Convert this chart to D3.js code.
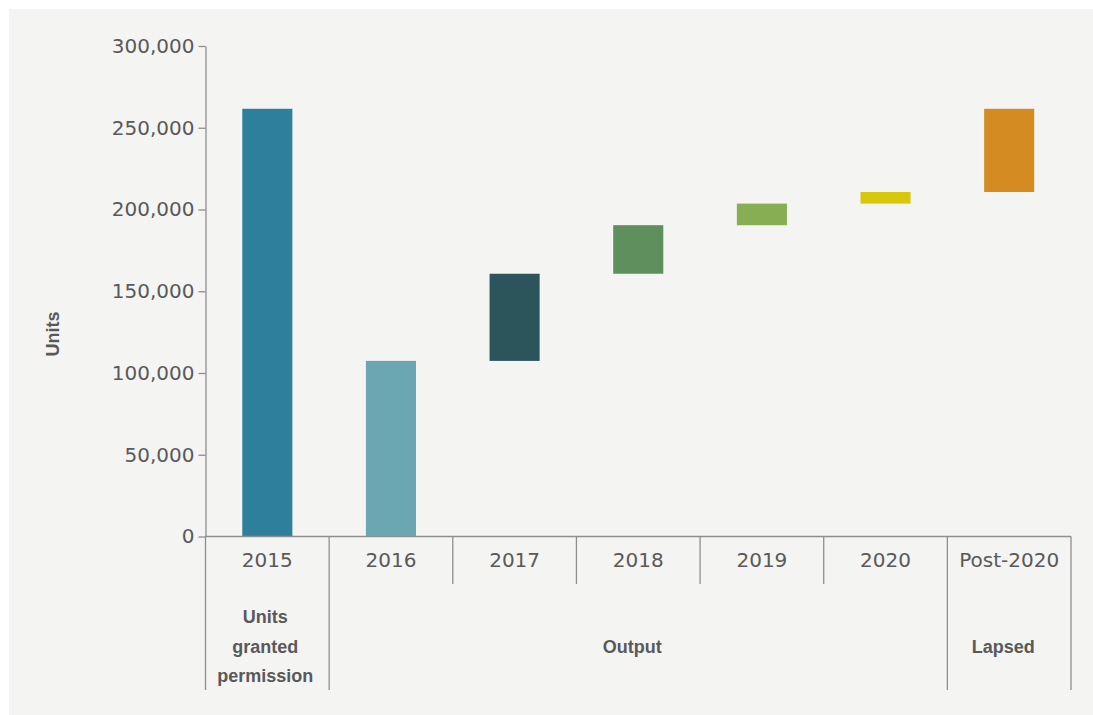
<!DOCTYPE html>
<html>
<head>
<meta charset="utf-8">
<script src="https://cdn.jsdelivr.net/npm/d3@7"></script>
<style>
  html, body { margin: 0; padding: 0; background: #ffffff; }
  svg { display: block; }
</style>
</head>
<body>
<svg id="chart" width="1093" height="715"></svg>
<script>
// Waterfall of housing units: permissions granted in 2015, how many were built each year, and how many lapsed
const categories = ["2015", "2016", "2017", "2018", "2019", "2020", "Post-2020"];
const unitsGranted = 261600;                                 // 2015 permissions
const outputByYear = [107400, 53300, 29700, 13200, 7100];    // 2016–2020 completions
const lapsedUnits = 50900;                                   // never built
const barColors = ["#2d7f9b", "#6ba7b3", "#2b555b", "#5e8f5d", "#87ae52", "#d8c70c", "#d38b22"];

const yTicks = [0, 50000, 100000, 150000, 200000, 250000, 300000];
const groupNames = [["Units", "granted", "permission"], ["Output"], ["Lapsed"]];
const groupFirst = ["2015", "2016", "Post-2020"];
const groupLast = ["2015", "2020", "Post-2020"];
const yTitle = "Units";

(function draw() {
  // Floating bar extents: the permission total, then cumulative output, then the lapsed remainder
  const cumulative = d3.cumsum(outputByYear);
  const bars = categories.map((c, i) => {
    let lo, hi;
    if (i === 0) { lo = 0; hi = unitsGranted; }
    else if (i <= outputByYear.length) { lo = i === 1 ? 0 : cumulative[i - 2]; hi = cumulative[i - 1]; }
    else { lo = cumulative[cumulative.length - 1]; hi = lo + lapsedUnits; }
    return { cat: c, lo, hi, color: barColors[i] };
  });

  const svg = d3.select("#chart");
  const W = 1093, H = 715;
  const plotLeft = 205.5, plotRight = 1071, plotTop = 46, plotBottom = 536.5;
  const axisColor = "#8e8e8e";
  const textColor = "#595959";

  // panel
  svg.append("rect").attr("x", 9).attr("y", 9).attr("width", W - 9).attr("height", H - 9).attr("fill", "#f4f4f2");

  const x = d3.scaleBand().domain(categories).range([plotLeft, plotRight]).paddingInner(0.595).paddingOuter(0.2975);
  const y = d3.scaleLinear().domain([0, 300000]).range([plotBottom, plotTop]);

  // bars
  svg.append("g").selectAll("rect").data(bars).join("rect")
    .attr("x", d => x(d.cat))
    .attr("width", x.bandwidth())
    .attr("y", d => y(d.hi))
    .attr("height", d => y(d.lo) - y(d.hi))
    .attr("fill", d => d.color);

  // y axis
  const yAxis = svg.append("g").attr("transform", `translate(${plotLeft},0)`)
    .call(d3.axisLeft(y).tickValues(yTicks).tickFormat(d3.format(",")).tickSize(7).tickSizeOuter(0).tickPadding(4));
  yAxis.select(".domain").attr("stroke", axisColor).attr("stroke-width", 1.3);
  yAxis.selectAll(".tick line").attr("stroke", axisColor).attr("stroke-width", 1.3);
  yAxis.selectAll(".tick text")
    .attr("fill", textColor).style("font-family", "'DejaVu Sans', sans-serif").style("font-size", "20px");

  // x axis (category labels)
  const xAxis = svg.append("g").attr("transform", `translate(0,${plotBottom})`)
    .call(d3.axisBottom(x).tickSize(0).tickSizeOuter(0).tickPadding(16.5));
  xAxis.select(".domain").remove();
  xAxis.selectAll(".tick text")
    .attr("fill", textColor).style("font-family", "'DejaVu Sans', sans-serif").style("font-size", "20px");

  svg.append("line").attr("x1", plotLeft).attr("x2", plotRight).attr("y1", plotBottom).attr("y2", plotBottom)
    .attr("stroke", axisColor).attr("stroke-width", 1.3);

  // cell separators: long ones bound the groups, short ones split years
  const cellLeft = c => x(c) + x.bandwidth() / 2 - x.step() / 2;
  const boundaries = categories.map((c, i) => ({ pos: cellLeft(c), idx: i }));
  boundaries.push({ pos: cellLeft(categories[categories.length - 1]) + x.step(), idx: categories.length });
  const groupEdges = new Set();
  groupFirst.forEach(c => groupEdges.add(categories.indexOf(c)));
  groupLast.forEach(c => groupEdges.add(categories.indexOf(c) + 1));

  svg.append("g").selectAll("line").data(boundaries).join("line")
    .attr("x1", d => d.pos).attr("x2", d => d.pos)
    .attr("y1", plotBottom)
    .attr("y2", d => groupEdges.has(d.idx) ? 690 : 584)
    .attr("stroke", axisColor).attr("stroke-width", 1.3);

  // group labels
  const groupG = svg.append("g")
    .style("font-family", "'Liberation Sans', Arial, sans-serif")
    .style("font-size", "18px").style("font-weight", "bold").attr("fill", textColor)
    .attr("text-anchor", "middle");
  groupNames.forEach((lines, gi) => {
    const x0 = cellLeft(groupFirst[gi]);
    const x1 = cellLeft(groupLast[gi]) + x.step();
    const cx = (x0 + x1) / 2 - (gi === 0 ? 2 : 6);
    const lh = 29.5;
    const startY = 652.5 - (lines.length - 1) / 2 * lh;
    const t = groupG.append("text").attr("x", cx).attr("y", startY);
    lines.forEach((ln, li) => {
      t.append("tspan").attr("x", cx).attr("y", startY + li * lh).text(ln);
    });
  });

  // y axis title
  svg.append("text")
    .attr("transform", "translate(59,334) rotate(-90)")
    .attr("text-anchor", "middle")
    .style("font-family", "'Liberation Sans', Arial, sans-serif")
    .style("font-size", "18px").style("font-weight", "bold")
    .attr("fill", textColor)
    .text(yTitle);
})();
</script>
</body>
</html>
